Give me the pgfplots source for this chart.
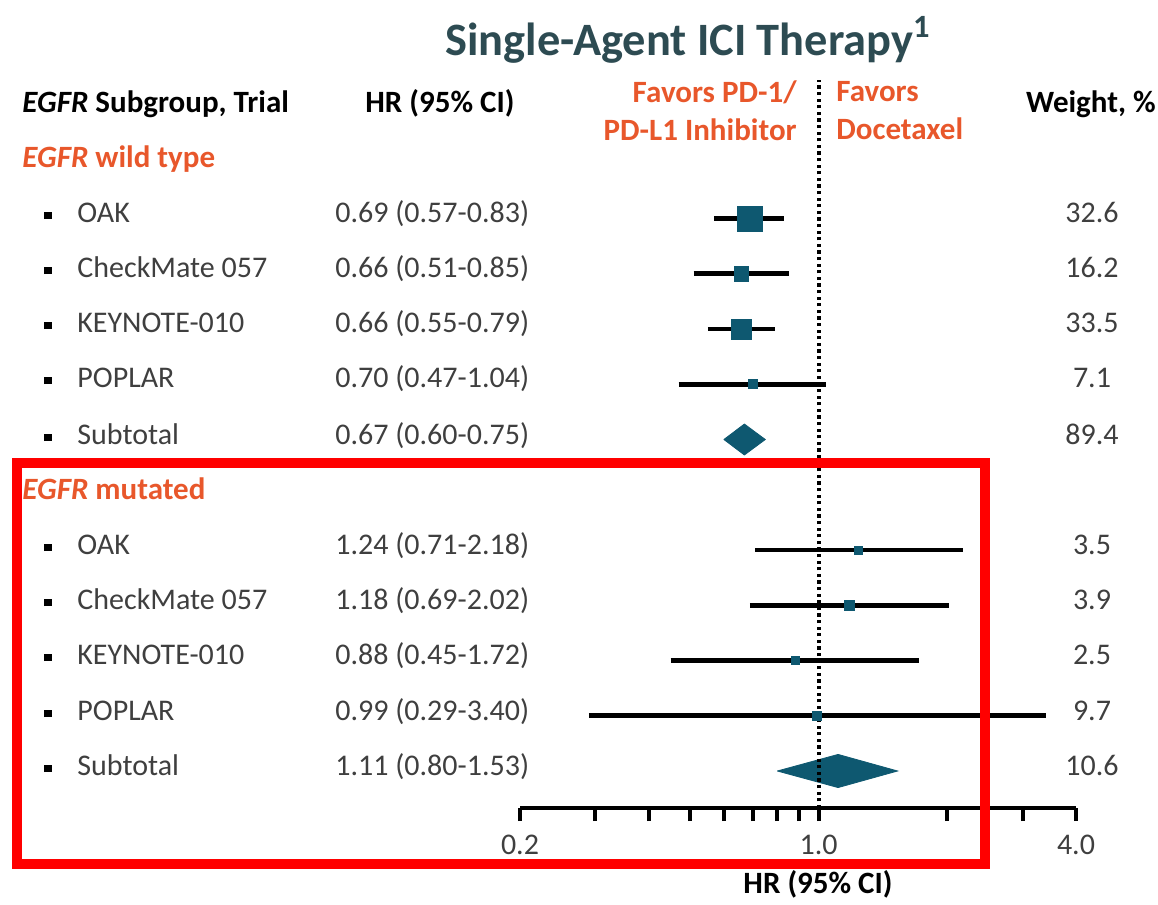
\documentclass[border=0pt]{standalone}
\usepackage{fontspec}
\setmainfont{Carlito}
\usepackage{pgfplots}
\pgfplotsset{compat=1.18}

\definecolor{markteal}{HTML}{0E5870}
\definecolor{orng}{HTML}{E8572B}
\definecolor{titlec}{HTML}{2D4B52}
\definecolor{txt}{HTML}{3F3F3F}

\newcommand{\rowfont}{\fontsize{15}{18}\selectfont}
\newcommand{\bul}{\makebox[16.5pt][l]{\raisebox{0.25ex}{\rule{3.6pt}{3.6pt}}}}

\begin{document}
\begin{tikzpicture}
% canvas in pixel-like units (1 unit = 0.5pt, y downwards)
\begin{scope}[x=0.5pt,y=-0.5pt]
  \useasboundingbox (0,0) rectangle (1158,893);
\end{scope}

\begin{axis}[
  at={(260pt,-404pt)}, anchor=south west,
  width=278pt, height=364pt, scale only axis,
  xmode=log, xmin=0.2, xmax=4,
  ymin=0.33, ymax=13.507,
  axis y line=none, axis x line*=bottom,
  x axis line style={-, line width=2pt, black},
  xtick={0.2,1,4}, xticklabels={0.2,1.0,4.0},
  minor xtick={0.3,0.4,0.5,0.6,0.7,0.8,0.9,2,3},
  tick align=outside,
  major tick length=6.5pt, minor tick length=6.5pt,
  every tick/.style={black, line width=2pt},
  xticklabel style={font=\rowfont, text=txt, yshift=-3.5pt},
  clip=false,
  unbounded coords=jump,
]
% confidence intervals
\addplot[black, line width=2.4pt, no marks] table[x=x,y=y] {
x y
0.57 11
0.83 11
nan nan
0.51 10
0.85 10
nan nan
0.55 9
0.79 9
nan nan
0.47 8
1.04 8
nan nan
0.71 5
2.18 5
nan nan
0.69 4
2.02 4
nan nan
0.45 3
1.72 3
nan nan
0.29 2
3.40 2
};
% point estimates, marker half-size in pt
\addplot[scatter, only marks, mark=square*,
  scatter/use mapped color={draw=markteal, fill=markteal},
  visualization depends on={\thisrow{ms} \as \msz},
  scatter/@pre marker code/.append style={/tikz/mark size=\msz}]
  table[x=hr,y=y] {
hr y ms
0.69 11 6.2
0.66 10 3.6
0.66 9 5.0
0.70 8 2.3
1.24 5 2.0
1.18 4 2.5
0.88 3 2.0
0.99 2 2.3
};
% subtotal diamonds
\addplot[fill=markteal, draw=markteal, no marks] coordinates
  {(0.60,7) (0.67,7.28) (0.75,7) (0.67,6.72) (0.60,7)};
\addplot[fill=markteal, draw=markteal, no marks] coordinates
  {(0.80,1) (1.11,1.30) (1.53,1) (1.11,0.70) (0.80,1)};
% line of no effect
\addplot[black, line width=2pt, dash pattern=on 1.6pt off 1.7pt, no marks]
  coordinates {(1,0.33) (1,13.507)};
\end{axis}

\begin{scope}[x=0.5pt,y=-0.5pt]
  % title and column headers
  \node[text=titlec, font=\fontsize{23.2}{27}\selectfont\bfseries] at (688,40)
    {Single-Agent ICI Therapy\textsuperscript{1}};
  \node[anchor=mid west, inner sep=0, font=\fontsize{15.5}{18}\selectfont\bfseries] at (22,108)
    {\textit{EGFR} Subgroup, Trial};
  \node[anchor=mid west, inner sep=0, font=\fontsize{15.5}{18}\selectfont\bfseries] at (365,108)
    {HR (95\% CI)};
  \node[anchor=east, align=right, inner sep=0, text=orng,
        font=\fontsize{15.5}{19}\selectfont\bfseries] at (797,111)
    {Favors PD-1/\\PD-L1 Inhibitor};
  \node[anchor=west, align=left, inner sep=0, text=orng,
        font=\fontsize{15.5}{19}\selectfont\bfseries] at (836,111)
    {Favors\\Docetaxel};
  \node[anchor=mid east, inner sep=0, font=\fontsize{15.5}{18}\selectfont\bfseries] at (1156,108)
    {Weight, \%};

  % group headings
  \node[anchor=mid west, inner sep=0, text=orng, font=\fontsize{15.5}{18}\selectfont\bfseries]
    at (22,163) {\textit{EGFR} wild type};
  \node[anchor=mid west, inner sep=0, text=orng, font=\fontsize{15.5}{18}\selectfont\bfseries]
    at (22,495) {\textit{EGFR} mutated};

  % trial names
  \foreach \yy/\name in {218/OAK, 273/CheckMate 057, 328/KEYNOTE-010, 383/POPLAR, 440/Subtotal,
                         550/OAK, 605/CheckMate 057, 660/KEYNOTE-010, 716/POPLAR, 771/Subtotal}
    \node[anchor=mid west, inner sep=0, font=\rowfont, text=txt] at (44,\yy)
      {\textcolor{black}{\bul}\name};

  % hazard ratios
  \foreach \yy/\hrtxt in {218/0.69 (0.57-0.83), 273/0.66 (0.51-0.85), 328/0.66 (0.55-0.79),
                          383/0.70 (0.47-1.04), 440/0.67 (0.60-0.75),
                          550/1.24 (0.71-2.18), 605/1.18 (0.69-2.02), 660/0.88 (0.45-1.72),
                          716/0.99 (0.29-3.40), 771/1.11 (0.80-1.53)}
    \node[anchor=mid west, inner sep=0, font=\rowfont, text=txt] at (335,\yy) {\hrtxt};

  % weights
  \foreach \yy/\wt in {218/32.6, 273/16.2, 328/33.5, 383/7.1, 440/89.4,
                       550/3.5, 605/3.9, 660/2.5, 716/9.7, 771/10.6}
    \node[anchor=mid, inner sep=0, font=\rowfont, text=txt] at (1092,\yy) {\wt};

  % x-axis title
  \node[font=\fontsize{15.5}{18}\selectfont\bfseries] at (818,884) {HR (95\% CI)};

  % highlight frame
  \draw[red, line width=5pt] (17,463) rectangle (985,864);
\end{scope}
\end{tikzpicture}
\end{document}
